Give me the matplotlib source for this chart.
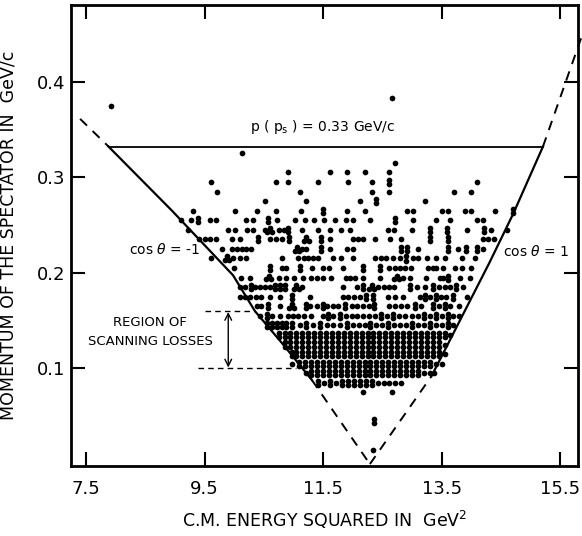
import matplotlib
matplotlib.use("Agg")
import matplotlib.pyplot as plt
import matplotlib.transforms as mtransforms
from collections import Counter

# spectator momentum rows (GeV/c) and the s values (GeV^2) of the events in each row
# a value listed twice / three times = stacked events in the same cell
row_p = [0.383, 0.374, 0.325, 0.315, 0.305, 0.295, 0.285, 0.275, 0.265, 0.255,
         0.245, 0.235, 0.225, 0.215, 0.205, 0.195, 0.185, 0.175, 0.165, 0.155,
         0.145, 0.135, 0.125, 0.115, 0.105, 0.095, 0.085, 0.075, 0.045, 0.015]
row_s = [
    [12.66],
    [7.93],
    [10.13],
    [12.72],
    [10.90, 11.61, 11.91, 12.20, 12.61],
    [9.61, 10.71, 10.91, 11.41, 11.92, 12.32, 12.61, 12.61, 14.10],
    [9.71, 11.11, 12.32, 12.61, 13.71, 14.00],
    [10.52, 11.22, 12.12, 12.40, 12.40, 13.22],
    [9.30, 10.01, 10.39, 10.70, 11.12, 11.50, 11.50, 11.91, 12.20, 12.91, 13.01,
     13.50, 13.60, 13.89, 14.00, 14.40, 14.71, 14.71],
    [9.10, 9.28, 9.39, 9.39, 9.59, 9.70, 10.20, 10.32, 10.57, 10.57, 10.72, 11.02,
     11.20, 11.34, 11.52, 11.70, 11.88, 12.00, 12.30, 12.71, 12.71, 13.02, 13.40,
     13.65, 14.09, 14.20],
    [9.22, 9.90, 10.01, 10.21, 10.32, 10.52, 10.60, 10.60, 10.60, 10.76, 10.84,
     10.91, 10.91, 11.14, 11.41, 11.61, 11.81, 11.96, 12.60, 12.70, 13.00, 13.31,
     13.31, 13.59, 13.59, 13.92, 14.22, 14.22, 14.34, 14.60],
    [9.41, 9.51, 9.60, 9.69, 9.96, 10.10, 10.41, 10.41, 10.61, 10.70, 10.80,
     10.93, 10.93, 11.22, 11.22, 11.22, 11.47, 11.47, 11.61, 12.00, 12.09, 12.18,
     12.38, 12.63, 12.81, 13.30, 13.30, 13.60, 13.60, 14.19, 14.28, 14.38],
    [9.79, 9.96, 10.04, 10.13, 10.20, 10.29, 11.06, 11.06, 11.06, 11.15, 11.22,
     11.47, 11.47, 11.61, 11.90, 12.00, 12.82, 12.82, 12.92, 12.92, 13.10, 13.61,
     13.61, 13.78, 13.91, 13.91, 14.09, 14.09, 14.20],
    [9.61, 9.88, 9.88, 9.88, 9.98, 10.10, 10.20, 10.80, 11.08, 11.18, 11.25,
     11.33, 11.42, 11.67, 11.81, 12.00, 12.38, 12.47, 12.57, 12.68, 12.79, 12.90,
     12.90, 13.01, 13.11, 13.25, 13.40, 13.56, 13.84, 14.06],
    [10.00, 10.60, 10.60, 10.80, 10.88, 11.11, 11.11, 11.31, 11.50, 11.60, 11.84,
     12.18, 12.18, 12.46, 12.46, 12.62, 12.71, 12.80, 12.88, 12.99, 13.27, 13.35,
     13.41, 13.53, 13.72, 13.85, 14.00],
    [10.12, 10.27, 10.58, 10.58, 10.58, 10.75, 10.88, 11.01, 11.16, 11.30, 11.40,
     11.50, 11.64, 11.88, 11.95, 12.04, 12.18, 12.46, 12.74, 12.74, 12.74, 12.85,
     12.97, 13.24, 13.47, 13.53, 13.61, 13.61, 13.81, 13.98],
    [10.09, 10.18, 10.28, 10.28, 10.35, 10.43, 10.52, 10.60, 10.69, 10.69, 10.77,
     10.77, 10.86, 10.86, 11.05, 11.05, 11.05, 11.15, 11.84, 12.07, 12.18, 12.18,
     12.32, 12.32, 12.32, 12.43, 12.52, 12.61, 12.70, 12.97, 12.97, 13.09, 13.22,
     13.35, 13.35, 13.45, 13.55, 13.65, 13.75, 13.75, 13.86],
    [10.10, 10.18, 10.27, 10.37, 10.46, 10.60, 10.77, 10.97, 10.97, 11.28, 11.84,
     11.92, 12.02, 12.12, 12.22, 12.22, 12.34, 12.34, 12.59, 12.71, 12.85, 13.13,
     13.22, 13.22, 13.31, 13.40, 13.40, 13.49, 13.58, 13.70, 13.70, 13.92],
    [10.38, 10.46, 10.57, 10.57, 10.77, 10.97, 10.97, 10.97, 11.22, 11.22, 11.28,
     11.39, 11.50, 11.50, 11.56, 11.67, 11.75, 11.87, 11.87, 11.98, 12.08, 12.18,
     12.27, 12.36, 12.36, 12.62, 12.72, 12.82, 12.92, 13.05, 13.05, 13.15, 13.35,
     13.35, 13.45, 13.55, 13.55, 13.65, 13.80],
    [10.43, 10.55, 10.55, 10.63, 10.77, 10.91, 11.00, 11.08, 11.17, 11.30, 11.50,
     11.58, 11.58, 11.67, 11.78, 11.78, 11.88, 11.98, 12.08, 12.18, 12.28, 12.38,
     12.48, 12.48, 12.58, 12.68, 12.68, 12.78, 12.88, 13.00, 13.10, 13.20, 13.20,
     13.30, 13.40, 13.40, 13.50, 13.60, 13.60, 13.70, 13.80],
    [10.55, 10.55, 10.63, 10.63, 10.72, 10.72, 10.80, 10.80, 10.88, 10.88, 10.97,
     10.97, 11.11, 11.22, 11.22, 11.33, 11.45, 11.45, 11.56, 11.67, 11.78, 11.90,
     11.90, 12.00, 12.10, 12.20, 12.30, 12.30, 12.40, 12.50, 12.60, 12.60, 12.70,
     12.80, 12.90, 13.00, 13.00, 13.10, 13.20, 13.30, 13.30, 13.40, 13.50, 13.60,
     13.60, 13.70],
    [10.75, 10.75, 10.85, 10.85, 10.95, 10.95, 11.05, 11.05, 11.15, 11.15, 11.25,
     11.25, 11.35, 11.35, 11.45, 11.45, 11.55, 11.55, 11.65, 11.65, 11.75, 11.75,
     11.85, 11.85, 11.95, 11.95, 12.05, 12.05, 12.15, 12.15, 12.25, 12.25, 12.35,
     12.35, 12.45, 12.45, 12.55, 12.55, 12.65, 12.65, 12.75, 12.75, 12.85, 12.85,
     12.95, 12.95, 13.05, 13.05, 13.15, 13.15, 13.25, 13.25, 13.35, 13.35, 13.45,
     13.45, 13.55, 13.55, 13.65],
    [10.85, 10.85, 10.95, 10.95, 11.05, 11.05, 11.15, 11.15, 11.25, 11.25, 11.35,
     11.35, 11.45, 11.45, 11.55, 11.55, 11.65, 11.65, 11.75, 11.75, 11.85, 11.85,
     11.95, 11.95, 12.05, 12.05, 12.15, 12.15, 12.25, 12.25, 12.35, 12.35, 12.45,
     12.45, 12.55, 12.55, 12.65, 12.65, 12.75, 12.75, 12.85, 12.85, 12.95, 12.95,
     13.05, 13.05, 13.15, 13.15, 13.25, 13.25, 13.35, 13.35, 13.45, 13.45, 13.55],
    [10.97, 10.97, 11.05, 11.05, 11.15, 11.15, 11.25, 11.25, 11.35, 11.35, 11.45,
     11.45, 11.55, 11.55, 11.65, 11.65, 11.75, 11.75, 11.85, 11.85, 11.95, 11.95,
     12.05, 12.05, 12.15, 12.15, 12.25, 12.25, 12.35, 12.35, 12.45, 12.45, 12.55,
     12.55, 12.65, 12.65, 12.75, 12.75, 12.85, 12.85, 12.95, 12.95, 13.05, 13.05,
     13.15, 13.15, 13.25, 13.25, 13.35, 13.35, 13.45, 13.45, 13.55],
    [10.97, 11.10, 11.10, 11.20, 11.20, 11.30, 11.30, 11.40, 11.40, 11.50, 11.50,
     11.60, 11.60, 11.70, 11.70, 11.80, 11.80, 11.90, 11.90, 12.00, 12.00, 12.10,
     12.10, 12.20, 12.20, 12.30, 12.30, 12.40, 12.40, 12.50, 12.50, 12.60, 12.60,
     12.70, 12.70, 12.80, 12.80, 12.90, 12.90, 13.00, 13.00, 13.10, 13.10, 13.20,
     13.20, 13.30, 13.30, 13.40, 13.50],
    [11.22, 11.30, 11.30, 11.40, 11.40, 11.50, 11.50, 11.60, 11.60, 11.70, 11.70,
     11.80, 11.80, 11.90, 11.90, 12.00, 12.00, 12.10, 12.10, 12.20, 12.20, 12.30,
     12.30, 12.40, 12.40, 12.50, 12.50, 12.60, 12.60, 12.70, 12.70, 12.80, 12.80,
     12.90, 12.90, 13.00, 13.00, 13.10, 13.10, 13.20, 13.30, 13.38],
    [11.41, 11.41, 11.52, 11.62, 11.62, 11.72, 11.82, 11.82, 11.92, 11.92, 12.02,
     12.02, 12.12, 12.12, 12.22, 12.22, 12.32, 12.32, 12.42, 12.52, 12.62, 12.72,
     12.82],
    [12.17, 12.67],
    [12.36, 12.36],
    [12.35],
]

# kinematic limits
left_solid_s = [7.88, 8.95, 9.98, 10.35, 10.80, 11.31]
left_solid_p = [0.332, 0.265, 0.1975, 0.160, 0.127, 0.088]
left_dash_s = [11.31, 12.29]
left_dash_p = [0.088, 0.0]
left_top_s = [7.40, 7.88]
left_top_p = [0.361, 0.332]
right_solid_s = [13.33, 14.31, 14.71, 15.21]
right_solid_p = [0.092, 0.211, 0.262, 0.332]
right_dash_s = [12.29, 13.33]
right_dash_p = [0.0, 0.092]
right_top_s = [15.21, 15.86]
right_top_p = [0.332, 0.4465]
cut_s = [7.88, 15.21]
cut_p = [0.332, 0.332]

xticks = [7.5, 9.5, 11.5, 13.5, 15.5]
yticks = [0.1, 0.2, 0.3, 0.4]

plt.rcParams['font.family'] = ['DejaVu Sans']

fig = plt.figure(figsize=(5.82, 5.36), dpi=100)
ax = fig.add_axes([0.122, 0.1306, 0.871, 0.860])
ax.set_xlim(7.247, 15.80)
ax.set_ylim(-0.002, 0.48)

# stacked events drawn as touching dots
stack = {1: [(0, 0)],
         2: [(0, -1.5), (0, 1.5)],
         3: [(-1.7, -1.3), (1.7, -1.3), (0, 1.5)]}
groups = {}
for p, ss in zip(row_p, row_s):
    for s, n in Counter(ss).items():
        for off in stack[min(n, 3)]:
            gx, gy = groups.setdefault(off, ([], []))
            gx.append(s)
            gy.append(p)
for off, (gx, gy) in groups.items():
    tr = mtransforms.offset_copy(ax.transData, fig=fig, x=off[0], y=off[1], units='points')
    ax.plot(gx, gy, 'o', ms=4.1, mew=0, color='black', transform=tr, clip_on=False)

ax.plot(left_solid_s, left_solid_p, color='black', lw=1.6)
ax.plot(right_solid_s, right_solid_p, color='black', lw=1.6)
ax.plot(cut_s, cut_p, color='black', lw=1.3)
for sx, sy in [(left_dash_s, left_dash_p), (right_dash_s, right_dash_p),
               (left_top_s, left_top_p), (right_top_s, right_top_p)]:
    ax.plot(sx, sy, color='black', lw=1.4, dashes=(5, 4), clip_on=False)

# region of scanning losses
ax.plot([9.51, 10.35], [0.160, 0.160], color='black', lw=1.0, dashes=(4, 3))
ax.plot([9.39, 11.05], [0.100, 0.100], color='black', lw=1.0, dashes=(4, 3))
ax.annotate('', xy=(9.90, 0.101), xytext=(9.90, 0.159),
            arrowprops=dict(arrowstyle='<->', color='black', lw=1.0,
                            shrinkA=0, shrinkB=0, mutation_scale=12))
ax.text(8.58, 0.148, 'REGION OF', ha='center', va='center', fontsize=9.5)
ax.text(8.58, 0.128, 'SCANNING LOSSES', ha='center', va='center', fontsize=9.5)

ax.text(11.50, 0.352, r'p ( p$_{\rm s}$ ) = 0.33 GeV/c', ha='center', va='center', fontsize=10)
ax.text(8.22, 0.224, r'cos $\theta$ = -1', ha='left', va='center', fontsize=10)
ax.text(14.53, 0.222, r'cos $\theta$ = 1', ha='left', va='center', fontsize=10)

ax.set_xticks(xticks)
ax.set_xticklabels(['7.5', '9.5', '11.5', '13.5', '15.5'])
ax.set_yticks(yticks)
ax.set_yticklabels(['0.1', '0.2', '0.3', '0.4'])
ax.tick_params(direction='in', length=10, width=1.5, top=True, right=True,
               labelsize=13)
ax.tick_params(axis='x', pad=10)
ax.tick_params(axis='y', pad=4)
for sp in ax.spines.values():
    sp.set_linewidth(2)

ax.set_xlabel(r'C.M. ENERGY SQUARED IN  GeV$^2$', fontsize=12.5, labelpad=8)
ax.set_ylabel('MOMENTUM OF THE SPECTATOR IN  GeV/c', fontsize=12.5, labelpad=14)

fig.savefig('out.png', dpi=100)
